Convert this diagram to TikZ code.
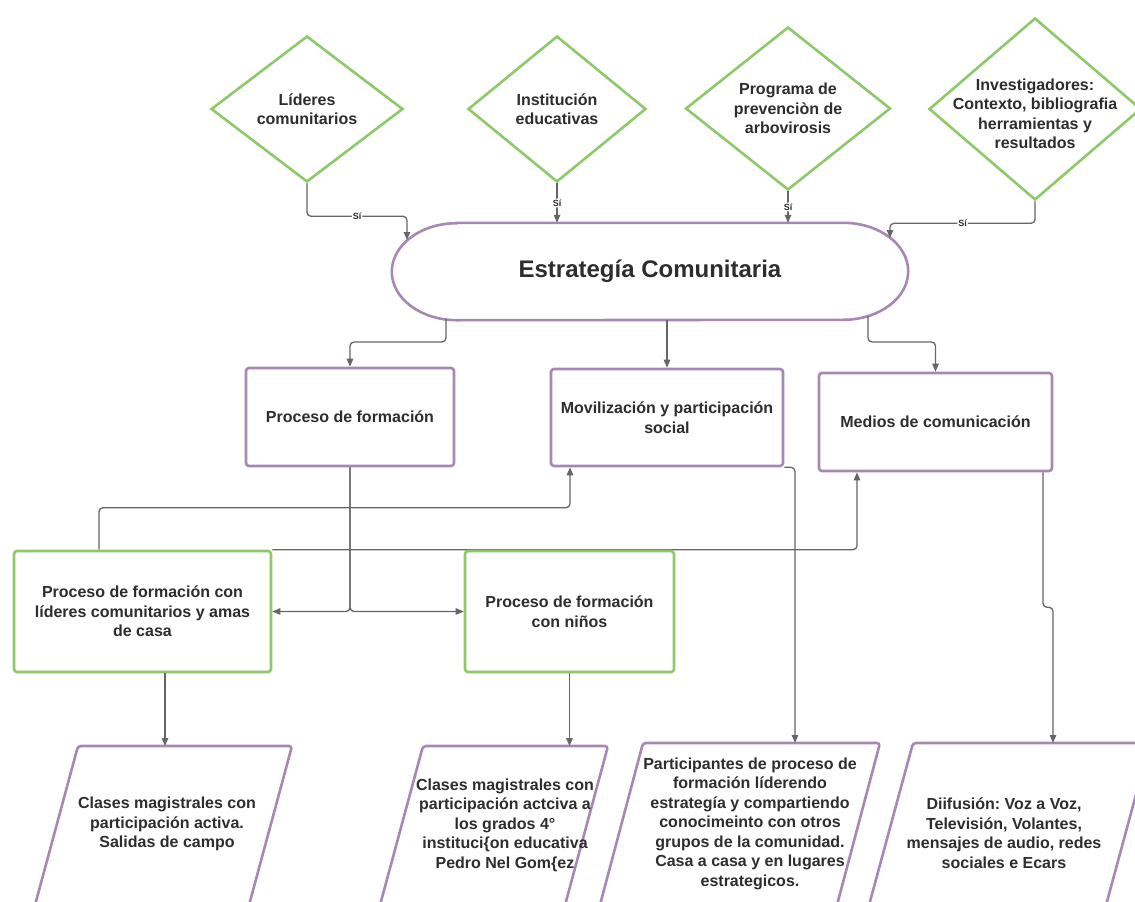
\documentclass[tikz,border=0pt]{standalone}
\usepackage{fontspec}
\setmainfont{Liberation Sans}
\frenchspacing
\usetikzlibrary{shapes.geometric,arrows.meta}
\definecolor{lila}{RGB}{166,136,178}
\definecolor{verde}{RGB}{141,201,104}
\definecolor{gris}{RGB}{102,102,102}
\definecolor{tinta}{RGB}{45,45,45}

\begin{document}
\begin{tikzpicture}[x=1pt,y=-1pt,
  letra/.style={font=\bfseries\fontsize{16}{19.5}\selectfont,text=tinta,align=center},
  rombo/.style={diamond,draw=verde,line width=2.6pt,fill=white,inner sep=0pt},
  caja/.style={letra,rectangle,draw=lila,line width=2.6pt,rounded corners=3pt,fill=white},
  paso/.style={caja,draw=verde},
  flujo/.style={draw=gris,line width=1.3pt,rounded corners=4pt,-{Triangle[length=8pt,width=6.5pt]}},
  si/.style={fill=white,inner sep=1pt,text=tinta,font=\bfseries\fontsize{9}{10}\selectfont}]
  \useasboundingbox (0,0) rectangle (1135,902);
  \node [rombo,minimum width=192pt,minimum height=146pt,label={[letra]center:{Líderes\\comunitarios}}] (lid) at (307,109) {};
  \node [rombo,minimum width=178pt,minimum height=146pt,label={[letra]center:{Institución\\educativas}}] (inst) at (557,109) {};
  \node [rombo,minimum width=205pt,minimum height=163pt,label={[letra]center:{Programa de\\prevenciòn de\\arbovirosis}}] (prog) at (788,108.5) {};
  \node [rombo,minimum width=212pt,minimum height=182pt,label={[letra,yshift=-5pt]center:{Investigadores:\\Contexto, bibliografia\\herramientas y\\resultados}}] (inv) at (1035,109) {};
  \node [letra,font=\bfseries\fontsize{24}{28}\selectfont,minimum width=516pt,minimum height=97pt] (estr) at (650,271.5) {Estrategía Comunitaria};
  \draw [draw=lila,line width=2.6pt] ([xshift=65pt]estr.north west) -- ([xshift=-65pt]estr.north east)
    arc [start angle=90,end angle=-90,x radius=65pt,y radius=48.5pt] -- ([xshift=65pt]estr.south west)
    arc [start angle=270,end angle=90,x radius=65pt,y radius=48.5pt] -- cycle;
  \coordinate (e1) at (407,240);
  \coordinate (e4) at (890,238);
  \coordinate (s1) at (446,319);
  \coordinate (s2) at (868,316);
  \node [caja,minimum width=208pt,minimum height=98pt] (form) at (350,417) {Proceso de formación};
  \node [caja,minimum width=232pt,minimum height=97pt] (movil) at (667,417.5) {Movilización y participación\\social};
  \node [caja,minimum width=233pt,minimum height=98pt] (medios) at (935.5,422) {Medios de comunicación};
  \node [paso,minimum width=257pt,minimum height=121pt] (formlid) at (142.5,611.5) {Proceso de formación con\\líderes comunitarios y amas\\de casa};
  \draw [flujo] (formlid.north east) -| ([xshift=-78.5pt]medios.south);
  \node [paso,minimum width=209pt,minimum height=121pt] (formnin) at (569.5,611.5) {Proceso de formación\\con niños};
  % entradas y salidas de los paralelogramos
  \coordinate (t1) at (165,746);
  \coordinate (t2) at (570,746);
  \coordinate (t3) at (795,743);
  \coordinate (t4) at (1053,743);
  \draw [draw=lila,line width=2.6pt,rounded corners=3pt] (78,746) -- (292,746) -- (245,920) -- (31,920) -- cycle;
  \draw [draw=lila,line width=2.6pt,rounded corners=3pt] (423,746) -- (608,746) -- (561,920) -- (376,920) -- cycle;
  \draw [draw=lila,line width=2.6pt,rounded corners=3pt] (643,743) -- (880,743) -- (833,920) -- (596,920) -- cycle;
  \draw [draw=lila,line width=2.6pt,rounded corners=3pt] (913,743) -- (1150,743) -- (1102,920) -- (865,920) -- cycle;
  \node [letra] (clases) at (167,824) {Clases magistrales con\\participación activa.\\Salidas de campo};
  \node [letra] (grados) at (505,825) {Clases magistrales con\\participación actciva a\\los grados 4°\\instituci\{on educativa\\Pedro Nel Gom\{ez};
  \node [letra] (partic) at (750,823.5) {Participantes de proceso de\\formación líderendo\\estrategía y compartiendo\\conocimeinto con otros\\grupos de la comunidad.\\Casa a casa y en lugares\\estrategicos.};
  \node [letra] (difus) at (1004,833) {Diifusión: Voz a Voz,\\Televisión, Volantes,\\mensajes de audio, redes\\sociales e Ecars};
  \draw [flujo] (lid.south) -- ++(0,33) -| node [si,pos=0.25] {Sí} (e1);
  \draw [flujo] (inst.south) -- node [si] {Sí} (inst.south |- estr.north);
  \draw [flujo] (prog.south) -- node [si] {Sí} (prog.south |- estr.north);
  \draw [flujo] (inv.south) -- ++(0,22) -| node [si,pos=0.25] {Sí} (e4);
  \draw [flujo] (s1) -- ++(0,23) -| (form.north);
  \draw [flujo] (estr.south -| movil.north) -- (movil.north);
  \draw [flujo] (s2) -- ++(0,26) -| (medios.north);
  \draw [flujo] (form.south) |- (formlid.east);
  \draw [flujo] (form.south) |- (formnin.west);
  \draw [flujo] ([xshift=-43.5pt]formlid.north) -- ++(0,-42) -| ([xshift=-97pt]movil.south);
  \draw [flujo] (movil.south east) -| (t3);
  \draw [flujo] ([xshift=107.5pt]medios.south) -- ++(0,135) -| (t4);
  \draw [flujo] ([xshift=22.5pt]formlid.south) -- (t1);
  \draw [flujo] (formnin.south) -- (formnin.south |- t2);
\end{tikzpicture}
\end{document}
